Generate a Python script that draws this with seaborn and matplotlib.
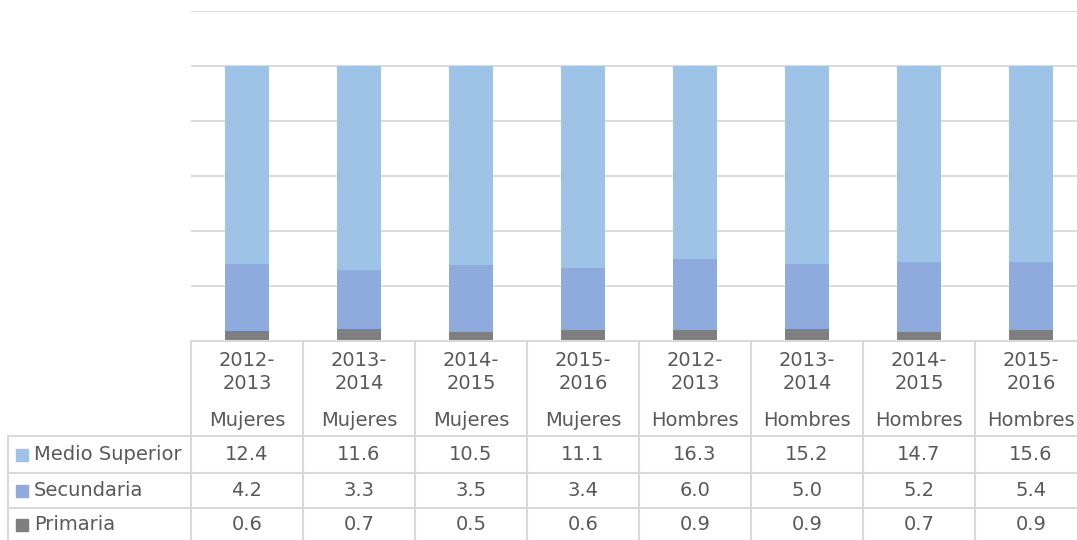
import matplotlib
matplotlib.use('Agg')
import matplotlib.pyplot as plt
from matplotlib.patches import Rectangle
import numpy as np
import pandas as pd
import seaborn as sns

# data
periodos = ['2012-\n2013', '2013-\n2014', '2014-\n2015', '2015-\n2016',
            '2012-\n2013', '2013-\n2014', '2014-\n2015', '2015-\n2016']
sexo = ['Mujeres'] * 4 + ['Hombres'] * 4
medio_superior = [12.4, 11.6, 10.5, 11.1, 16.3, 15.2, 14.7, 15.6]
secundaria = [4.2, 3.3, 3.5, 3.4, 6.0, 5.0, 5.2, 5.4]
primaria = [0.6, 0.7, 0.5, 0.6, 0.9, 0.9, 0.7, 0.9]

series = ['Medio Superior', 'Secundaria', 'Primaria']
colores = ['#9DC3E6', '#8FAADC', '#7F7F7F']

df = pd.DataFrame({'cat': [p + ' ' + s for p, s in zip(periodos, sexo)],
                   'Medio Superior': medio_superior,
                   'Secundaria': secundaria,
                   'Primaria': primaria})
total = df['Medio Superior'] + df['Secundaria'] + df['Primaria']
# 100% stacked -> cumulative shares, drawn back to front
df['top'] = (df['Medio Superior'] + df['Secundaria'] + df['Primaria']) / total
df['mid'] = (df['Secundaria'] + df['Primaria']) / total
df['low'] = df['Primaria'] / total

sns.set_style('white')
plt.rcParams['font.family'] = ['DejaVu Sans']
txt_col = '#595959'
grid_col = '#D9D9D9'

W, H = 1077, 540
fig = plt.figure(figsize=(W / 100, H / 100), dpi=100)

# plot area in pixels: left 191, top 11, bottom 341, 112 px per category
ax = fig.add_axes([191 / W, (H - 341) / H, 896 / W, 330 / H])
for col, c in zip(['top', 'mid', 'low'], colores):
    sns.barplot(data=df, x='cat', y=col, color=c, width=0.4, ax=ax,
                saturation=1, linewidth=0, zorder=2)
ax.set_xlim(-0.5, 7.5)
ax.set_ylim(0, 1.2)
ax.set_yticks(np.arange(0, 1.21, 0.2))
ax.yaxis.grid(True, color=grid_col, lw=1.3)
ax.set_axisbelow(True)
ax.set_xticks([])
ax.set_yticklabels([])
ax.tick_params(left=False, bottom=False)
ax.set_xlabel('')
ax.set_ylabel('')
for s in ax.spines.values():
    s.set_visible(False)

# data table underneath, drawn in pixel coordinates
tab = fig.add_axes([0, 0, 1, 1], zorder=3)
tab.set_xlim(0, W)
tab.set_ylim(H, 0)
tab.axis('off')
x0, cw = 191, 112
lw = 1.5
tab.plot([x0, W], [341, 341], color=grid_col, lw=lw)
for y in [436, 473, 508]:
    tab.plot([8, W], [y, y], color=grid_col, lw=lw)
tab.plot([8, 8], [436, H], color=grid_col, lw=lw)
for k in range(9):
    tab.plot([x0 + k * cw, x0 + k * cw], [341, H], color=grid_col, lw=lw)

fs = 14
for i in range(len(periodos)):
    cx = x0 + cw * i + cw / 2
    tab.text(cx, 372, periodos[i], ha='center', va='center', fontsize=fs,
             color=txt_col, linespacing=1.3)
    tab.text(cx, 420, sexo[i], ha='center', va='center', fontsize=fs,
             color=txt_col)

row_y = [455, 491, 525]
valores = [medio_superior, secundaria, primaria]
for r, (nombre, c, vals) in enumerate(zip(series, colores, valores)):
    y = row_y[r]
    tab.add_patch(Rectangle((16, y - 6), 12, 12, color=c))
    tab.text(34, y, nombre, ha='left', va='center', fontsize=fs,
             color=txt_col)
    for i, v in enumerate(vals):
        tab.text(x0 + cw * i + cw / 2, y, f'{v:.1f}', ha='center',
                 va='center', fontsize=fs, color=txt_col)

fig.savefig('out.png', dpi=100)
